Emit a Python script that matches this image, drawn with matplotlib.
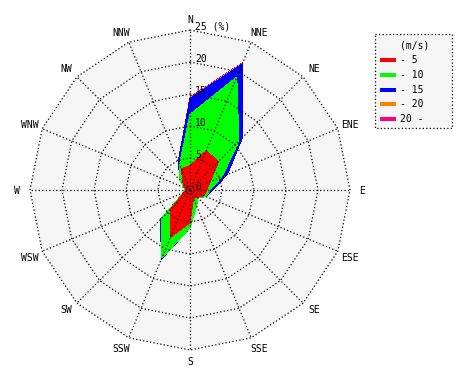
import numpy as np
import matplotlib
matplotlib.use("Agg")
import matplotlib.pyplot as plt
from matplotlib.patches import Polygon, Rectangle

# ---------------- data ----------------
directions = ["N", "NNE", "NE", "ENE", "E", "ESE", "SE", "SSE",
              "S", "SSW", "SW", "WSW", "W", "WNW", "NW", "NNW"]
speed_unit = "(m/s)"
speed_labels = ["- 5", "- 10", "- 15", "- 20", "20 -"]
speed_colors = ["#ff0000", "#00ff00", "#0000ff", "#ff8000", "#ff0080"]

# frequency (%) per speed class, per direction
freq_0_5 = [3.8, 6.6, 6.3, 3.4, 2.6, 2.3, 1.6, 1.4, 5.1, 8.0, 4.2, 1.0, 0.6, 0.8, 1.5, 3.6]
freq_5_10 = [8.0, 12.5, 4.5, 2.0, 0.5, 0.4, 0.2, 1.3, 0.8, 3.5, 2.1, 0.1, 0.2, 0.2, 0.7, 0.7]
freq_10_15 = [2.5, 2.2, 0.8, 0.9, 0.4, 0.0, 0.0, 0.0, 0.0, 0.2, 0.2, 0.0, 0.0, 0.0, 0.0, 0.5]
freq_15_20 = [0.1, 0.15, 0.0, 0.0, 0.0, 0.0, 0.0, 0.0, 0.0, 0.0, 0.0, 0.0, 0.0, 0.0, 0.0, 0.0]
freq_20_up = [0.1, 0.1, 0.0, 0.0, 0.0, 0.0, 0.0, 0.0, 0.0, 0.0, 0.0, 0.0, 0.0, 0.0, 0.0, 0.0]
ring_values = [0, 5, 10, 15, 20, 25]
ring_unit = "(%)"

# ---------------- figure ----------------
W_PX, H_PX = 470, 380
fig = plt.figure(figsize=(W_PX / 100, H_PX / 100), dpi=100)
fig.patch.set_facecolor("white")

CX, CY = 190, 190           # centre of rose in pixels (from top-left)
R_PX = 160                  # pixel radius of 25 %
rmax = ring_values[-1]
PX = rmax / R_PX            # data units per pixel
half = 170

ax = fig.add_axes([(CX - half) / W_PX, (H_PX - CY - half) / H_PX,
                   2 * half / W_PX, 2 * half / H_PX])
ax.set_xlim(-half * PX, half * PX)
ax.set_ylim(-half * PX, half * PX)
ax.set_aspect("equal")
ax.axis("off")

n = len(directions)
theta = np.deg2rad(np.arange(n) * 360.0 / n)
sx, sy = np.sin(theta), np.cos(theta)

def polar_poly(r):
    r = np.asarray(r, dtype=float)
    return np.column_stack([r * sx, r * sy])

# background
ax.add_patch(Polygon(polar_poly([rmax] * n), closed=True, facecolor="#f5f5f5",
                     edgecolor="none", zorder=0))

# stacked fills
classes = [freq_0_5, freq_5_10, freq_10_15, freq_15_20, freq_20_up]
cum = np.cumsum(np.array(classes, dtype=float), axis=0)
for k in reversed(range(len(classes))):
    ax.add_patch(Polygon(polar_poly(cum[k]), closed=True, facecolor=speed_colors[k],
                         edgecolor="none", zorder=1 + (len(classes) - k) * 0.01,
                         antialiased=False))

# grid
dot = (0, (1.0, 1.8))
lw = 0.9
for rv in ring_values[1:]:
    pts = polar_poly([rv] * n)
    pts = np.vstack([pts, pts[:1]])
    ax.plot(pts[:, 0], pts[:, 1], color="black", lw=lw, ls=dot, zorder=3,
            dash_capstyle="butt")
for i in range(n):
    ax.plot([0, rmax * sx[i]], [0, rmax * sy[i]], color="black", lw=lw, ls=dot,
            zorder=3, dash_capstyle="butt")

font = dict(family="DejaVu Sans Mono", size=7, color="black")

# ring labels
for rv in ring_values:
    txt = f"{rv}" if rv != rmax else f"{rv} {ring_unit}"
    ax.text(5 * PX, rv + 3.5 * PX, txt, ha="left", va="center", zorder=4, **font)

# direction labels (pixel centres)
label_px = [(190, 20), (259, 33), (314, 69), (350, 125), (362, 191), (350, 258),
            (314, 310), (259, 349), (190, 362), (121, 349), (66, 310), (30, 258),
            (17, 191), (30, 125), (66, 69), (121, 33)]
for name, (px, py) in zip(directions, label_px):
    ax.text((px - CX) * PX, (CY - py) * PX, name, ha="center", va="center",
            zorder=4, clip_on=False, **font)

# legend
lax = fig.add_axes([0, 0, 1, 1])
lax.set_xlim(0, W_PX)
lax.set_ylim(H_PX, 0)
lax.axis("off")
lax.patch.set_alpha(0)
lax.add_patch(Rectangle((375, 34), 77, 94, facecolor="#f5f5f5", edgecolor="black",
                        lw=lw, ls=dot))
lax.text(415, 45, speed_unit, ha="center", va="center", **font)
for i, (lab, col) in enumerate(zip(speed_labels, speed_colors)):
    yy = 60 + i * 14.8
    lax.add_patch(Rectangle((380, yy - 2), 16, 4, facecolor=col, edgecolor="none"))
    lax.text(400, yy, lab, ha="left", va="center", **font)

fig.savefig("out.png", dpi=100)
